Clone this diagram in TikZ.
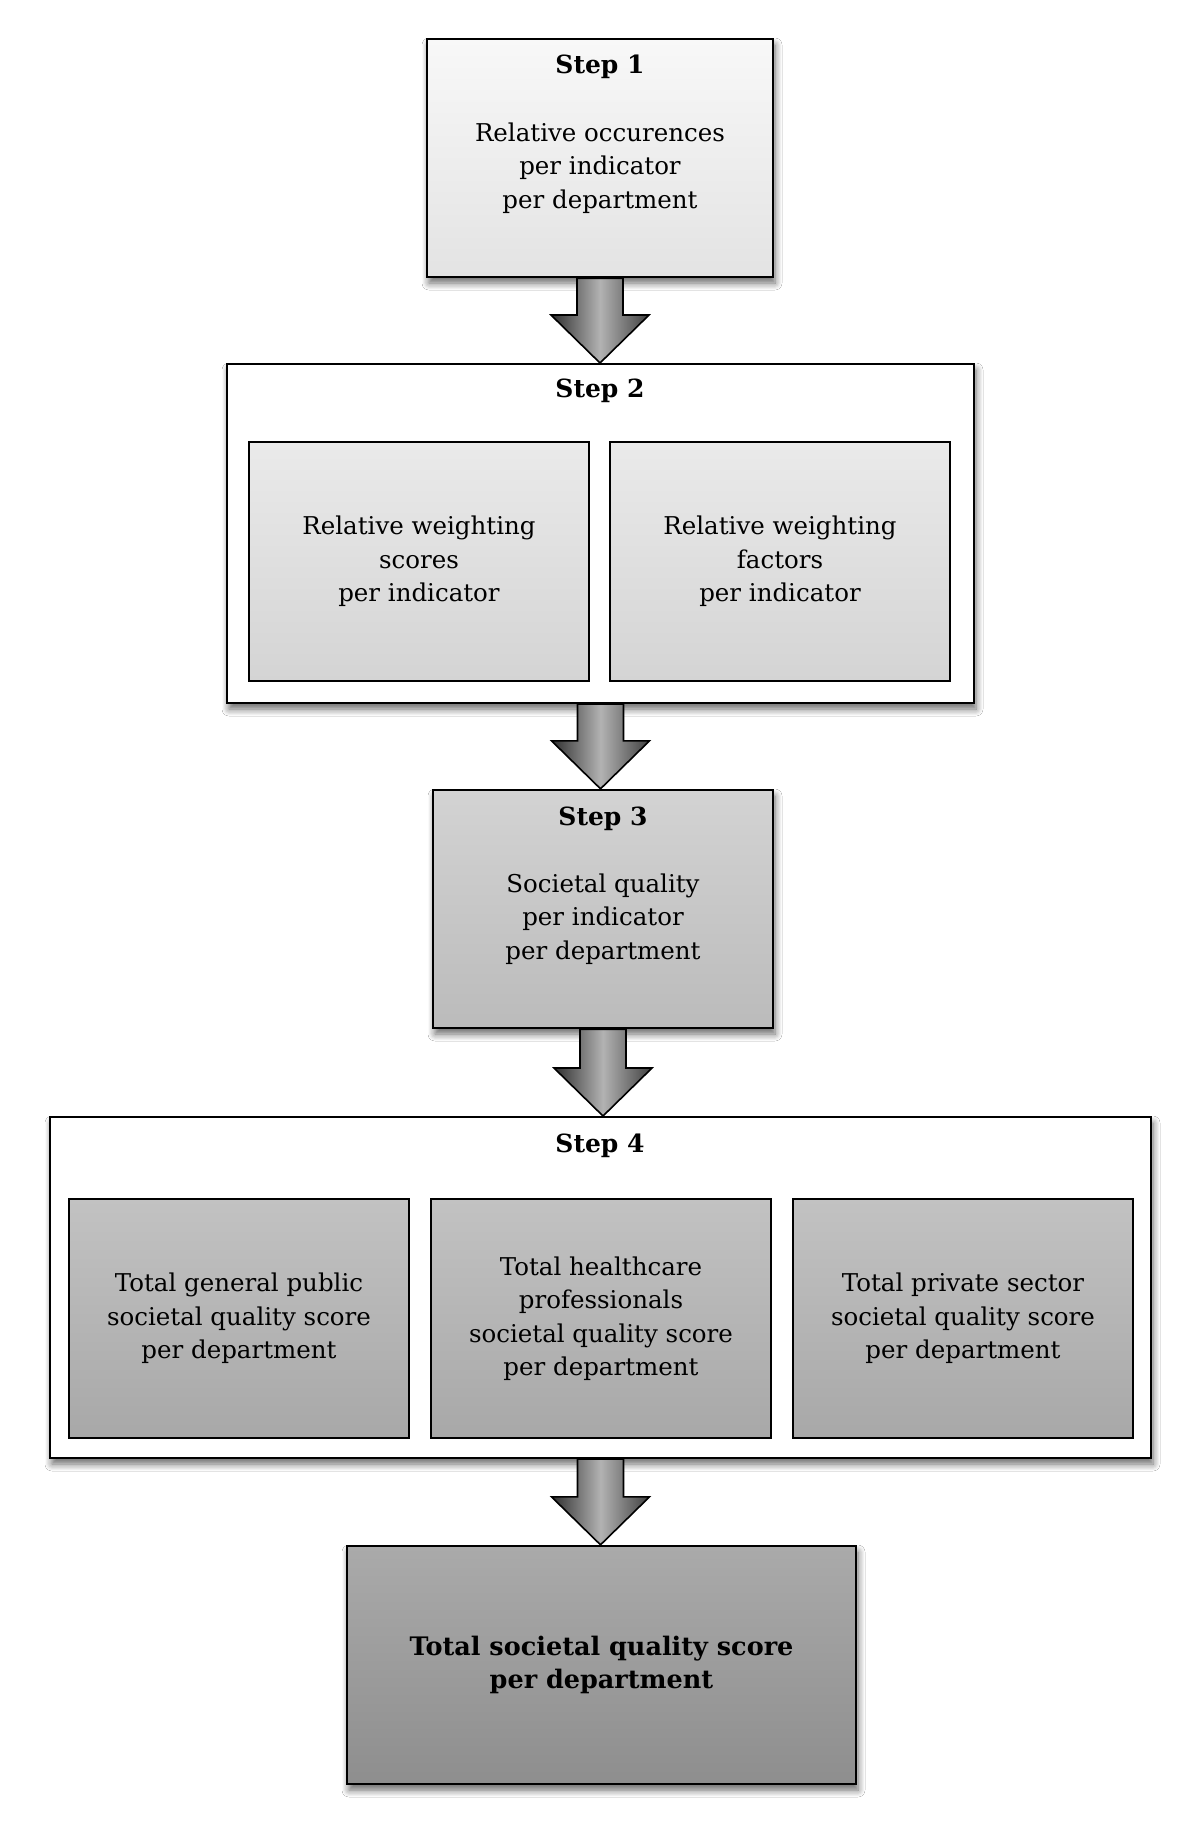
\documentclass[tikz,border=0pt]{standalone}
\usepackage{fontspec}
\setmainfont{DejaVu Serif}
\usetikzlibrary{calc,shadows.blur}
\definecolor{c1t}{HTML}{F8F8F8}\definecolor{c1b}{HTML}{E3E3E3}
\definecolor{c2t}{HTML}{EAEAEA}\definecolor{c2b}{HTML}{D4D4D4}
\definecolor{c3t}{HTML}{D3D3D3}\definecolor{c3b}{HTML}{BBBBBB}
\definecolor{c4t}{HTML}{C2C2C2}\definecolor{c4b}{HTML}{A8A8A8}
\definecolor{c5t}{HTML}{AAAAAA}\definecolor{c5b}{HTML}{8E8E8E}
\tikzset{
  shad/.style={blur shadow={shadow xshift=2pt,shadow yshift=-6pt,shadow blur radius=7pt,shadow opacity=60,shadow blur steps=7}},
  box/.style={draw=black,line width=2.4pt,inner sep=0pt,shad},
  outer/.style={draw=black,line width=2pt,fill=white,inner sep=0pt,shad},
  inbox/.style={draw=black,line width=2.2pt,inner sep=0pt,minimum width=340pt,minimum height=239pt,align=center,txt},
  txt/.style={font=\fontsize{24.5}{33.5}\selectfont,align=center},
  ttl/.style={font=\fontsize{25}{33.5}\selectfont\bfseries,inner sep=0pt},
  bigarr/.style={draw=black,line width=1.6pt,line join=miter,left color=black!82,right color=black!75,middle color=black!30},
}
\newcommand\flowarrow[2]{%
  \path[bigarr] let \p1=(#1.south), \p2=(#2.north) in
   (\x1-23pt,\y1) -- (\x1-23pt,\y2+48pt) -- (\x1-49pt,\y2+48pt) -- (\x1,\y2)
   -- (\x1+49pt,\y2+48pt) -- (\x1+23pt,\y2+48pt) -- (\x1+23pt,\y1) -- cycle;}
\begin{document}
\begin{tikzpicture}[x=1pt,y=-1pt]
\useasboundingbox[fill=white] (0,0) rectangle (1200,1842);
% Step 1
\node[box,top color=c1t,bottom color=c1b,minimum width=346pt,minimum height=238pt] (s1) at (600,158) {};
\node[ttl] (s1t) at (600,67) {Step 1};
\node[txt] (s1b) at (600,168) {Relative occurences\\per indicator\\per department};
% Step 2
\node[outer,minimum width=747pt,minimum height=339pt] (s2) at (600.5,533.5) {};
\node[ttl] (s2t) at (600,391) {Step 2};
\node[inbox,top color=c2t,bottom color=c2b] (s2a) at (419,561.5) {Relative weighting\\scores\\per indicator};
\node[inbox,top color=c2t,bottom color=c2b] (s2b) at (780,561.5) {Relative weighting\\factors\\per indicator};
% Step 3
\node[box,top color=c3t,bottom color=c3b,minimum width=340pt,minimum height=238pt] (s3) at (603,909) {};
\node[ttl] (s3t) at (603,819) {Step 3};
\node[txt] (s3b) at (603,919) {Societal quality\\per indicator\\per department};
% Step 4
\node[outer,minimum width=1101pt,minimum height=341pt] (s4) at (600.5,1287.5) {};
\node[ttl] (s4t) at (600,1146) {Step 4};
\node[inbox,top color=c4t,bottom color=c4b] (s4a) at (239,1318.5) {Total general public\\societal quality score\\per department};
\node[inbox,top color=c4t,bottom color=c4b] (s4b) at (601,1318.5) {Total healthcare\\professionals\\societal quality score\\per department};
\node[inbox,top color=c4t,bottom color=c4b] (s4c) at (963,1318.5) {Total private sector\\societal quality score\\per department};
% Final
\node[box,top color=c5t,bottom color=c5b,minimum width=509pt,minimum height=238pt,align=center,font=\fontsize{25.5}{33.5}\selectfont\bfseries] (fin) at (601.5,1665) {Total societal quality score\\per department};
% arrows
\flowarrow{s1}{s2}
\flowarrow{s2}{s3}
\flowarrow{s3}{s4}
\flowarrow{s4}{fin}
\end{tikzpicture}
\end{document}
